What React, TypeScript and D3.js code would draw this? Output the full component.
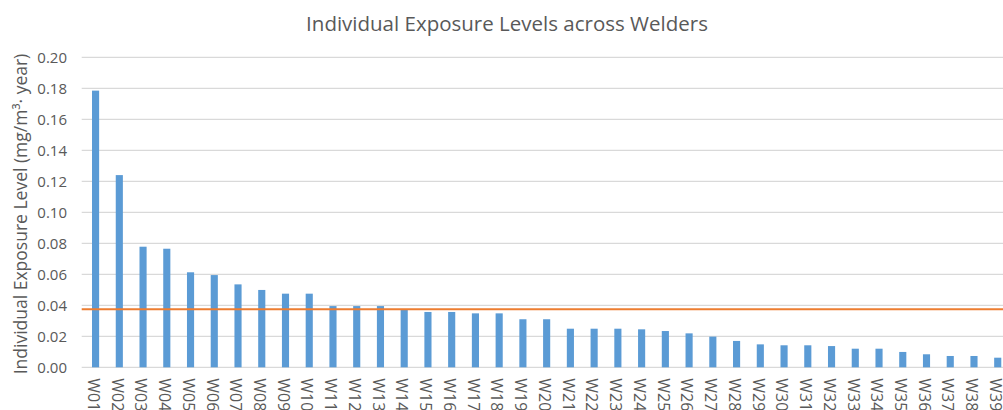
import React from "react";
import * as d3 from "d3";

const welders = Array.from({ length: 39 }, (_, i) => "W" + String(i + 1).padStart(2, "0"));
const exposure = [
  0.1785, 0.124, 0.0778, 0.0765, 0.0613, 0.0595, 0.0535, 0.0499, 0.0475, 0.0475,
  0.0395, 0.0395, 0.0395, 0.037, 0.0357, 0.0357, 0.0348, 0.0348, 0.031, 0.031,
  0.0249, 0.0249, 0.0249, 0.0245, 0.0234, 0.0219, 0.0198, 0.017, 0.0148, 0.0142,
  0.0142, 0.0137, 0.012, 0.012, 0.0099, 0.0084, 0.0073, 0.0073, 0.0062,
];
const referenceLevel = 0.0375;
const yTicks = [0, 0.02, 0.04, 0.06, 0.08, 0.1, 0.12, 0.14, 0.16, 0.18, 0.2];

const title = "Individual Exposure Levels across Welders";
const yTitle = "Individual Exposure Level (mg/m³· year)";

const W = 1003;
const H = 410;
const plot = { left: 83.7, right: 1009.6, top: 57.3, bottom: 367.3 };
const font = "'Open Sans', 'Liberation Sans', sans-serif";
const textColor = "#595959";

export default function App() {
  const x = d3
    .scaleBand<string>()
    .domain(welders)
    .range([plot.left, plot.right])
    .paddingInner(0.7)
    .paddingOuter(0.35);
  const y = d3.scaleLinear().domain([0, 0.2]).range([plot.bottom, plot.top]);
  const fmt = d3.format(".2f");

  return (
    <svg
      width={W}
      height={H}
      style={{ position: "absolute", left: 0, top: 0, background: "#fff" }}
      fontFamily={font}
    >
      <rect x={0} y={0} width={W} height={H} fill="#fff" />
      <text x={507} y={31} textAnchor="middle" fontSize={20.5} fill={textColor}>
        {title}
      </text>
      {yTicks.map((t) => (
        <g key={t}>
          <line
            x1={plot.left - 2}
            x2={W}
            y1={y(t)}
            y2={y(t)}
            stroke="#D9D9D9"
            strokeWidth={1.3}
          />
          <text
            x={67}
            y={y(t)}
            dy="0.36em"
            textAnchor="end"
            fontSize={15}
            fill={textColor}
          >
            {fmt(t)}
          </text>
        </g>
      ))}
      {welders.map((w, i) => (
        <rect
          key={w}
          x={x(w)}
          y={y(exposure[i])}
          width={x.bandwidth()}
          height={plot.bottom - y(exposure[i])}
          fill="#5B9BD5"
        />
      ))}
      <line
        x1={plot.left - 2}
        x2={W}
        y1={y(referenceLevel)}
        y2={y(referenceLevel)}
        stroke="#ED7D31"
        strokeWidth={2}
      />
      {welders.map((w) => {
        const cx = (x(w) as number) + x.bandwidth() / 2 - 2;
        return (
          <text
            key={w}
            transform={`translate(${cx},${plot.bottom + 11}) rotate(90)`}
            dy="0.36em"
            fontSize={16}
            fill={textColor}
          >
            {w}
          </text>
        );
      })}
      <text
        transform={`translate(21,214) rotate(-90)`}
        textAnchor="middle"
        dy="0.36em"
        fontSize={17.5}
        fill={textColor}
      >
        {yTitle}
      </text>
    </svg>
  );
}
